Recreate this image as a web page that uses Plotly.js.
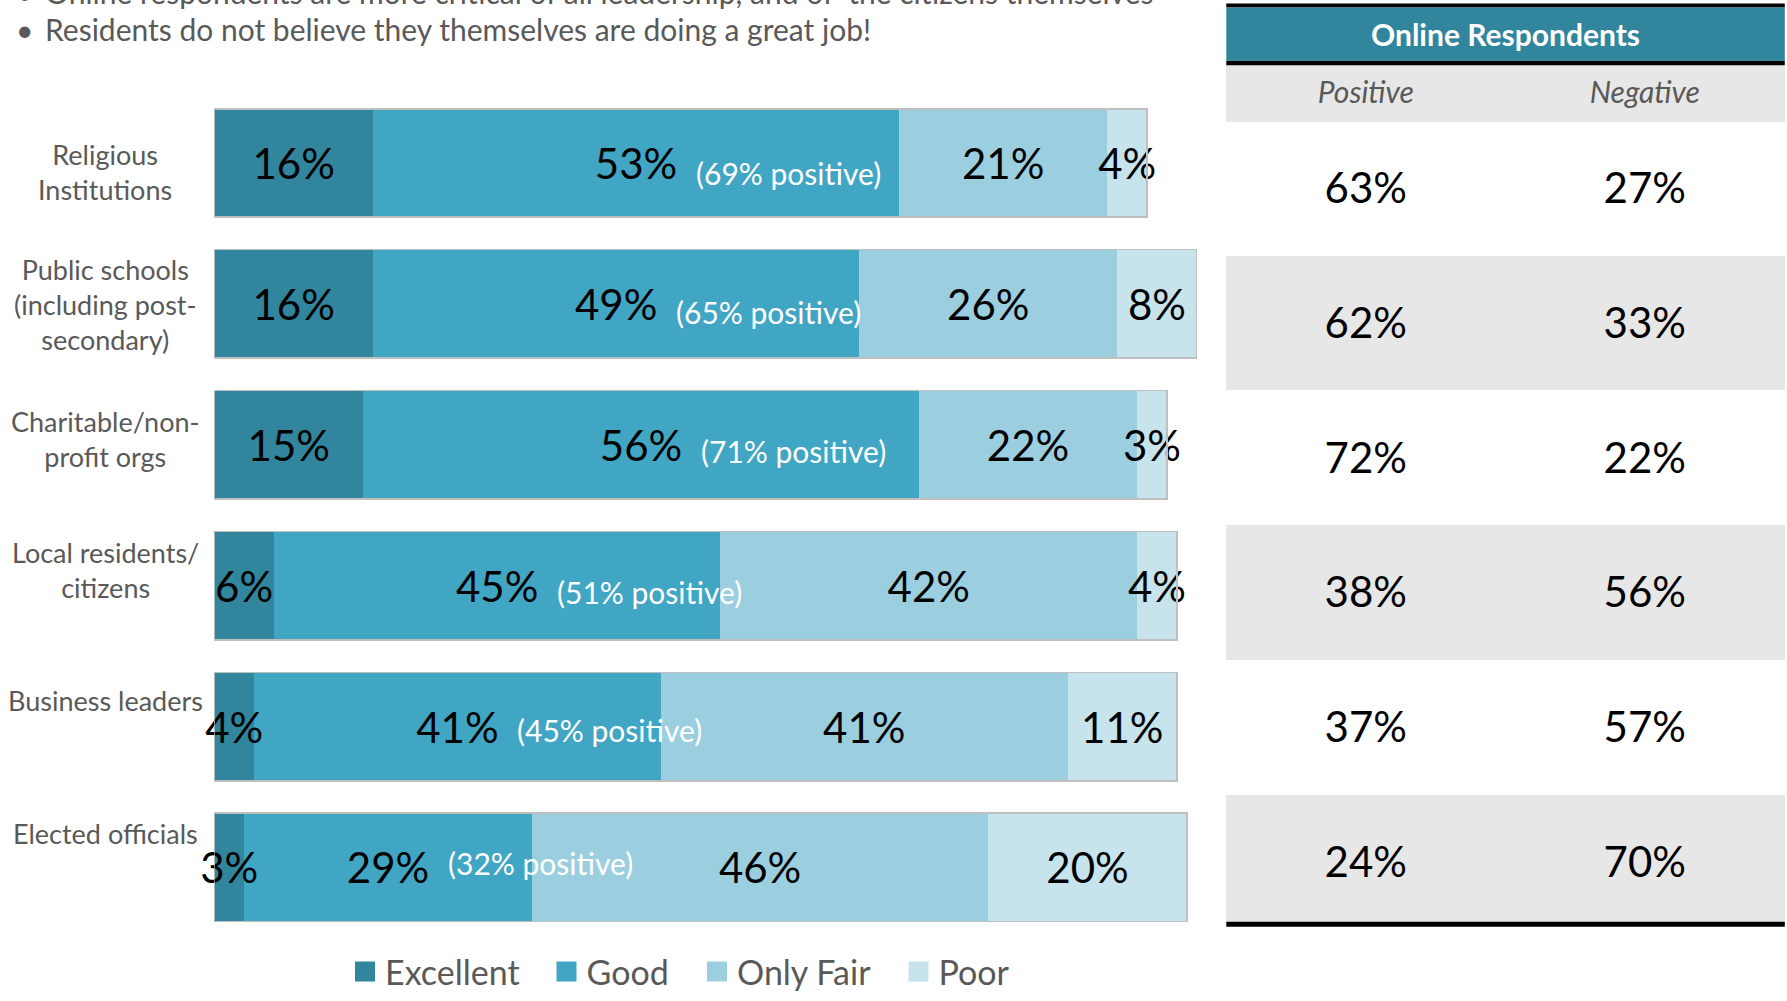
<!DOCTYPE html>
<html><head><meta charset="utf-8">
<script src="https://cdn.plot.ly/plotly-3.0.1.min.js"></script>
<style>html,body{margin:0;padding:0;background:#fff}#chart{width:1787px;height:1001px}</style>
</head><body><div id="chart"></div>
<script>
// ---- data ----
const categories = ["Religious<br>Institutions", "Public schools<br>(including post-<br>secondary)", "Charitable/non-<br>profit orgs", "Local residents/<br>citizens", "Business leaders", "Elected officials"];
const seriesNames = ["Excellent", "Good", "Only Fair", "Poor"];
const excellent = [16, 16, 15, 6, 4, 3];
const good = [53, 49, 56, 45, 41, 29];
const onlyFair = [21, 26, 22, 42, 41, 46];
const poor = [4, 8, 3, 4, 11, 20];
const positiveShare = [69, 65, 71, 51, 45, 32];
const tableTitle = "Online Respondents";
const tableHeader = ["Positive", "Negative"];
const onlinePositive = [63, 62, 72, 38, 37, 24];
const onlineNegative = [27, 33, 22, 56, 57, 70];
const bullets = ["Online respondents are more critical of all leadership, and of  the citizens themselves", "Residents do not believe they themselves are doing a great job!"];

// ---- styles ----
const W = 1787, H = 1001;
const px = x => x / W, py = y => 1 - y / H;
const colors = ['#31859C', '#40A6C4', '#9BCFDF', '#C7E4EC'];
const FONT = 'Lato, "Open Sans", sans-serif';
const labelShift = [-9, -1, 6, 16, 26, 34];
const noteShift = [-10, -8, -6, -6, -3, 4];
const legendLeft = [345, 546.5, 697, 898.5];
// an invisible small first line pushes the table values to the middle of their rows
const cellPadLine = '<span style="font-size:19px">&nbsp;</span><br>';

const series = [excellent, good, onlyFair, poor];
const traces = [];
// coloured segments
series.forEach((vals, i) => traces.push({
  type: 'bar', orientation: 'h', name: seriesNames[i], legendgroup: seriesNames[i], showlegend: false,
  y: categories, x: vals,
  marker: {color: colors[i], line: {width: 0}},
  hovertemplate: '%{x}%<extra>' + seriesNames[i] + '</extra>'
}));
// value labels, drawn on an overlay so they sit above neighbouring segments
series.forEach((vals, i) => traces.push({
  type: 'bar', orientation: 'h', xaxis: 'x2', yaxis: 'y', showlegend: false, hoverinfo: 'skip',
  y: categories, x: vals,
  marker: {color: 'rgba(0,0,0,0)', line: {width: 0}},
  text: vals.map(v => v + '%'), textposition: 'inside', insidetextanchor: 'middle',
  textangle: 0, constraintext: 'none', cliponaxis: false,
  textfont: {family: FONT, size: 42, color: '#000'}
}));
// outer outline of each bar
traces.push({
  type: 'bar', orientation: 'h', xaxis: 'x3', yaxis: 'y', showlegend: false, hoverinfo: 'skip',
  y: categories, x: categories.map((c, i) => excellent[i] + good[i] + onlyFair[i] + poor[i]),
  marker: {color: 'rgba(0,0,0,0)', line: {color: '#BFBFBF', width: 1.5}}
});
// legend entries (one legend box per entry so each sits where the original's does)
const legendIds = ['legend', 'legend2', 'legend3', 'legend4'];
seriesNames.forEach((n, i) => traces.push({
  type: 'scatter', mode: 'markers', name: n, legendgroup: n, legend: legendIds[i], x: [null], y: [null], hoverinfo: 'skip',
  marker: {symbol: 'square', size: 16, color: colors[i], line: {color: colors[i], width: 4}}
}));

const rowFill = onlinePositive.map((v, i) => i % 2 === 0 ? '#FFFFFF' : '#E7E7E7');
traces.push({
  type: 'table',
  domain: {x: [px(1226.3), px(1784.8)], y: [py(933), py(66)]},
  columnwidth: [1, 1],
  header: {
    values: tableHeader.map(h => '<i>' + h + '</i>'), height: 56, align: 'center',
    fill: {color: '#E7E7E7'}, line: {width: 1, color: '#E7E7E7'},
    font: {family: FONT, size: 30, color: '#595959'}
  },
  cells: {
    values: [onlinePositive.map(v => cellPadLine + v + '%'), onlineNegative.map(v => cellPadLine + v + '%')],
    height: 134.8, align: 'center',
    fill: {color: [rowFill, rowFill]}, line: {width: 1, color: [rowFill, rowFill]},
    font: {family: FONT, size: 42, color: '#000'}
  }
});

const annotations = [];
const textFont = {family: FONT, size: 30, color: '#595959'};
annotations.push({xref: 'paper', yref: 'paper', x: px(24), y: py(-8), xanchor: 'center', yanchor: 'middle', text: '•', showarrow: false, font: textFont});
annotations.push({xref: 'paper', yref: 'paper', x: px(43), y: py(-8), xanchor: 'left', yanchor: 'middle', text: bullets[0], showarrow: false, font: textFont});
annotations.push({xref: 'paper', yref: 'paper', x: px(24), y: py(29), xanchor: 'center', yanchor: 'middle', text: '•', showarrow: false, font: textFont});
annotations.push({xref: 'paper', yref: 'paper', x: px(43), y: py(29), xanchor: 'left', yanchor: 'middle', text: bullets[1], showarrow: false, font: textFont});

categories.forEach((c, i) => {
  annotations.push({xref: 'paper', yref: 'y', x: px(105), y: c, xanchor: 'center', yanchor: 'middle', align: 'center',
    text: c, showarrow: false, yshift: labelShift[i], font: {family: FONT, size: 27, color: '#595959'}});
  annotations.push({xref: 'x', yref: 'y', x: excellent[i] + good[i] / 2, y: c, xanchor: 'left', yanchor: 'middle',
    text: '(' + positiveShare[i] + '% positive)', showarrow: false, xshift: 58, yshift: noteShift[i],
    font: {family: FONT, size: 30, color: '#FFFFFF'}});
});

annotations.push({xref: 'paper', yref: 'paper', x: px(1505.5), y: py(34), xanchor: 'center', yanchor: 'middle',
  text: '<b>' + tableTitle + '</b>', showarrow: false, font: {family: FONT, size: 30, color: '#FFFFFF'}});

const rect = (y0, y1, color) => ({type: 'rect', xref: 'paper', yref: 'paper', x0: px(1226.3), x1: px(1784.8), y0: py(y1), y1: py(y0), fillcolor: color, line: {width: 0}, layer: 'above'});
const shapes = [rect(3.5, 7.5, '#000000'), rect(7.5, 61.5, '#31859C'), rect(61.5, 66, '#000000'), rect(931, 936, '#000000')];

const hidden = {range: [0, 100], visible: false, fixedrange: true};
const layout = {
  width: W, height: H, margin: {l: 0, r: 0, t: 0, b: 0},
  paper_bgcolor: '#FFFFFF', plot_bgcolor: 'rgba(0,0,0,0)',
  barmode: 'stack', bargap: 0.23,
  font: {family: FONT, color: '#595959'},
  xaxis: Object.assign({domain: [px(214.3), px(1206.6)]}, hidden),
  xaxis2: Object.assign({overlaying: 'x'}, hidden),
  xaxis3: Object.assign({overlaying: 'x'}, hidden),
  yaxis: {domain: [py(947.3), py(93.5)], type: 'category', autorange: 'reversed', showticklabels: false, showgrid: false, zeroline: false, showline: false, fixedrange: true},
  showlegend: true,
  annotations: annotations, shapes: shapes
};
legendIds.forEach((id, i) => {
  layout[id] = {orientation: 'h', itemsizing: 'trace', x: px(legendLeft[i]), xanchor: 'left', y: py(982), yanchor: 'middle',
    font: {family: FONT, size: 34, color: '#595959'}, bgcolor: 'rgba(0,0,0,0)'};
});

Plotly.newPlot('chart', traces, layout, {displayModeBar: false, responsive: false});
</script>
</body></html>
